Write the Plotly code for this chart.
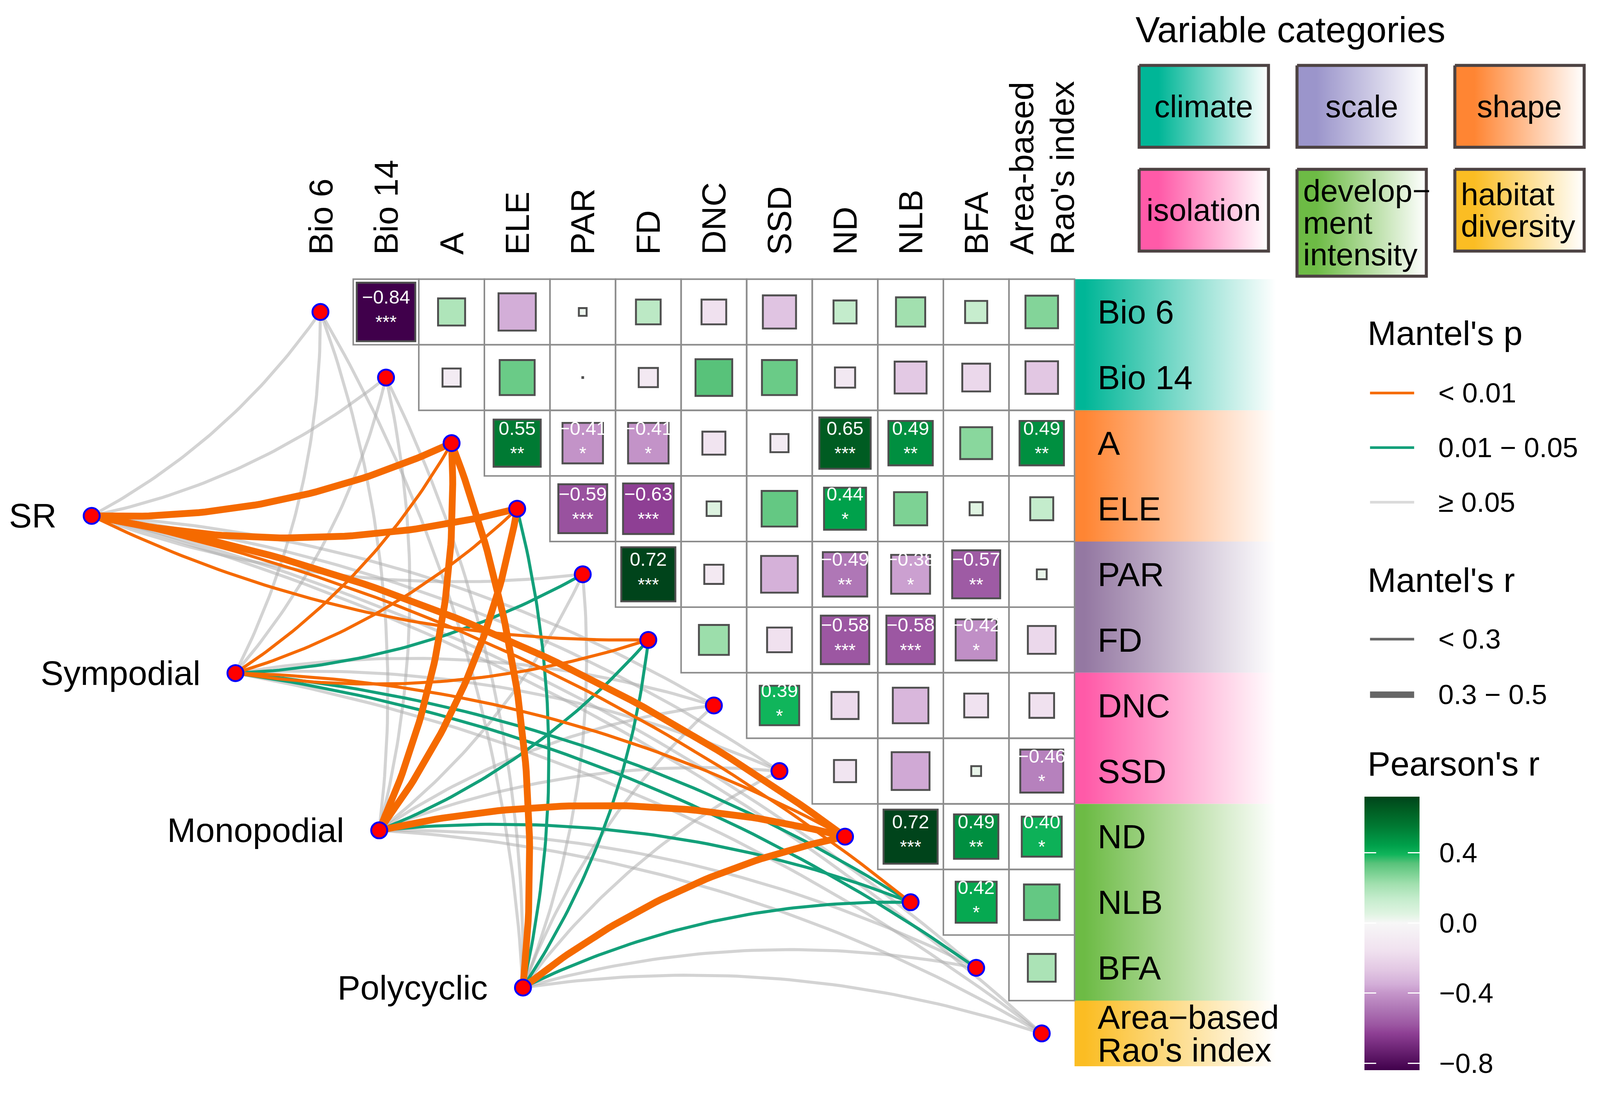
import numpy as np
import plotly.graph_objects as go

# ======================= DATA =======================
variables = ["Bio 6", "Bio 14", "A", "ELE", "PAR", "FD", "DNC", "SSD",
             "ND", "NLB", "BFA", "Area-based Rao's index"]
col_labels = [["Bio 6"], ["Bio 14"], ["A"], ["ELE"], ["PAR"], ["FD"], ["DNC"],
              ["SSD"], ["ND"], ["NLB"], ["BFA"], ["Area-based", "Rao's index"]]
row_labels = [["Bio 6"], ["Bio 14"], ["A"], ["ELE"], ["PAR"], ["FD"], ["DNC"],
              ["SSD"], ["ND"], ["NLB"], ["BFA"], ["Area\u2212based", "Rao's index"]]
var_category = ["climate", "climate", "shape", "shape", "scale", "scale",
                "isolation", "isolation", "development", "development",
                "development", "habitat"]
legend_categories = ["climate", "scale", "shape", "isolation", "development", "habitat"]
legend_category_text = {
    "climate": ["climate"], "scale": ["scale"], "shape": ["shape"],
    "isolation": ["isolation"], "development": ["develop\u2212", "ment", "intensity"],
    "habitat": ["habitat", "diversity"],
}

# Pearson's r, upper triangle: row i vs columns i+1 .. 11
pearson_r = [
    [-0.84, 0.19, -0.35, 0.02, 0.16, -0.16, -0.28, 0.14, 0.22, 0.13, 0.27],
    [-0.09, 0.31, 0.001, -0.10, 0.34, 0.31, -0.11, -0.26, -0.20, -0.27],
    [0.55, -0.41, -0.41, -0.14, -0.09, 0.65, 0.49, 0.26, 0.49],
    [-0.59, -0.63, 0.06, 0.32, 0.44, 0.28, 0.05, 0.14],
    [0.72, -0.10, -0.34, -0.49, -0.38, -0.57, 0.03],
    [0.23, -0.16, -0.58, -0.58, -0.42, -0.20],
    [0.39, -0.19, -0.32, -0.15, -0.16],
    [-0.13, -0.36, 0.03, -0.46],
    [0.72, 0.49, 0.40],
    [0.42, 0.32],
    [0.20],
]
pearson_sig = [
    ["***", "", "", "", "", "", "", "", "", "", ""],
    ["", "", "", "", "", "", "", "", "", ""],
    ["**", "*", "*", "", "", "***", "**", "", "**"],
    ["***", "***", "", "", "*", "", "", ""],
    ["***", "", "", "**", "*", "**", ""],
    ["", "", "***", "***", "*", ""],
    ["*", "", "", "", ""],
    ["", "", "", "*"],
    ["***", "**", "*"],
    ["*", ""],
    [""],
]

species = ["SR", "Sympodial", "Monopodial", "Polycyclic"]
p_levels = ["< 0.01", "0.01 \u2212 0.05", "\u2265 0.05"]
r_levels = ["< 0.3", "0.3 \u2212 0.5"]
# Mantel's p class (index into p_levels) for each species x variable
mantel_p = [
    [2, 2, 0, 0, 2, 0, 2, 2, 0, 0, 2, 2],
    [2, 2, 0, 0, 1, 0, 2, 2, 0, 1, 1, 2],
    [2, 2, 0, 0, 2, 1, 2, 2, 0, 1, 2, 2],
    [2, 2, 0, 1, 2, 1, 2, 2, 0, 1, 2, 2],
]
# Mantel's r class (index into r_levels)
mantel_r = [
    [0, 0, 1, 1, 0, 0, 0, 0, 1, 0, 0, 0],
    [0, 0, 0, 0, 0, 0, 0, 0, 0, 0, 0, 0],
    [0, 0, 1, 1, 0, 0, 0, 0, 1, 0, 0, 0],
    [0, 0, 1, 0, 0, 0, 0, 0, 1, 0, 0, 0],
]
cbar_ticks = [0.4, 0.0, -0.4, -0.8]
cbar_ticktext = ["0.4", "0.0", "\u22120.4", "\u22120.8"]

# ======================= STYLE / GEOMETRY =======================
FIG_W, FIG_H = 4201, 2864
S = 0.9737                      # global layout scale


def P(v):
    return v * S


CELL = P(172.4)
X0, Y0 = P(842.5), P(820.0)
FONT = "Liberation Sans, Arial, Helvetica, sans-serif"

p_colors = ["#F56A00", "#13A07A", "rgba(175,175,175,0.55)"]
p_legend_colors = ["#F56A00", "#13A07A", "#DADADA"]
r_widths = [P(8), P(18)]
band_colors = {"climate": "#00B697", "shape": "#FF8533", "scale": "#9478A2",
               "isolation": "#FF5AA8", "development": "#6DBB45", "habitat": "#FBBD23"}
box_colors = dict(band_colors, scale="#9B95CB")

color_anchors = [(-0.84, "#40004B"), (-0.63, "#8E3F94"), (-0.58, "#9C57A2"),
                 (-0.49, "#AF77B6"), (-0.40, "#C596CA"), (-0.35, "#D3AED8"),
                 (-0.27, "#E2C7E3"), (-0.16, "#F0E1EF"), (0.0, "#F7F7F7"),
                 (0.05, "#E0F4E2"), (0.14, "#C4ECCC"), (0.22, "#A2E0AF"),
                 (0.31, "#6ACB87"), (0.34, "#58C27A"), (0.39, "#10B55B"),
                 (0.44, "#00A14B"), (0.55, "#007A33"), (0.65, "#005C22"),
                 (0.72, "#00441B")]


def ux(xp):          # design pixel -> data unit
    return (P(xp) - X0) / CELL


def uy(yp):
    return (P(yp) - Y0) / CELL


def pxp(xp):         # design pixel -> paper
    return P(xp) / FIG_W


def pyp(yp):
    return 1 - P(yp) / FIG_H


fig = go.Figure()
shapes = []
annotations = []
n = len(variables)

all_r = [v for row in pearson_r for v in row]
cmin, cmax = min(all_r), max(all_r)
colorscale = []
for v, c in color_anchors:
    pos = min(max((v - cmin) / (cmax - cmin), 0.0), 1.0)
    colorscale.append([pos, c])
colorscale[0][0] = 0.0
colorscale[-1][0] = 1.0

# ---------- category bands ----------
band_x0, band_x1 = n - 0.5, ux(3355)
start = 0
for i in range(1, n + 1):
    if i == n or var_category[i] != var_category[start]:
        cat = var_category[start]
        y0b, y1b = start - 0.5, i - 0.5
        fig.add_trace(go.Scatter(
            x=[band_x0, band_x1, band_x1, band_x0, band_x0],
            y=[y0b, y0b, y1b, y1b, y0b], mode="lines", fill="toself",
            line=dict(width=0, color="rgba(0,0,0,0)"),
            fillgradient=dict(type="horizontal",
                              colorscale=[[0, band_colors[cat]], [0.05, band_colors[cat]], [1, "#FFFFFF"]]),
            hoverinfo="skip"))
        start = i

# ---------- edges (Mantel links) ----------
sp_x0, sp_y0 = ux(241), uy(1356)
sp_dx, sp_dy = 378 / 172.4, 413.3 / 172.4
sp_pos = [(sp_x0 + i * sp_dx, sp_y0 + i * sp_dy) for i in range(len(species))]

edges = []
for si in range(len(species)):
    for j in range(n):
        edges.append((mantel_p[si][j], si, j))
edges.sort(key=lambda e: -e[0])
t = np.linspace(0, 1, 60)
for pc, si, j in edges:
    sx, sy = sp_pos[si]
    vx, vy = float(j), float(j)
    dx, dy = vx - sx, vy - sy
    L = np.hypot(dx, dy)
    if j < n / 2:
        nx, ny = -dy / L, dx / L
    else:
        nx, ny = dy / L, -dx / L
    h = 0.12 * L
    cx, cy = (sx + vx) / 2 + nx * h, (sy + vy) / 2 + ny * h
    bx = (1 - t) ** 2 * sx + 2 * (1 - t) * t * cx + t ** 2 * vx
    by = (1 - t) ** 2 * sy + 2 * (1 - t) * t * cy + t ** 2 * vy
    fig.add_trace(go.Scatter(x=bx, y=by, mode="lines",
                             line=dict(color=p_colors[pc], width=r_widths[mantel_r[si][j]]),
                             hoverinfo="skip"))

# ---------- correlation cells ----------
cx_l, cy_l, cr_l, lab_x, lab_y, lab_v, lab_s = [], [], [], [], [], [], []
for i, row in enumerate(pearson_r):
    for k, v in enumerate(row):
        j = i + 1 + k
        shapes.append(dict(type="rect", xref="x", yref="y", x0=j - 0.5, x1=j + 0.5,
                           y0=i - 0.5, y1=i + 0.5, line=dict(color="#8C8C8C", width=P(4)),
                           layer="above"))
        cx_l.append(j)
        cy_l.append(i)
        cr_l.append(v)
        if pearson_sig[i][k]:
            lab_x.append(j)
            lab_y.append(i)
            lab_v.append(f"{v:.2f}".replace("-", "\u2212"))
            lab_s.append(pearson_sig[i][k])

sizes = [max(np.sqrt(abs(v)) * CELL - P(4), 2) for v in cr_l]
fig.add_trace(go.Scatter(
    x=cx_l, y=cy_l, mode="markers", hoverinfo="skip",
    marker=dict(symbol="square", size=sizes, color=cr_l, colorscale=colorscale,
                cmin=cmin, cmax=cmax, opacity=1, line=dict(color="#4F4F4F", width=P(5)),
                showscale=True,
                colorbar=dict(x=pxp(3587), xanchor="left", y=pyp((2094 + 2813) / 2),
                              yanchor="middle", len=P(719), lenmode="pixels",
                              thickness=P(145), thicknessmode="pixels", xpad=0, ypad=0,
                              outlinewidth=0, tickvals=cbar_ticks, ticktext=cbar_ticktext,
                              ticks="outside", ticklen=P(38), tickcolor="rgba(0,0,0,0)",
                              tickfont=dict(size=P(72), family=FONT, color="black")))))
fig.add_trace(go.Scatter(x=lab_x, y=[y - 0.2 for y in lab_y], mode="text", text=lab_v,
                         textfont=dict(size=P(50), color="white", family=FONT), hoverinfo="skip"))
fig.add_trace(go.Scatter(x=lab_x, y=[y + 0.18 for y in lab_y], mode="text", text=lab_s,
                         textfont=dict(size=P(48), color="white", family=FONT), hoverinfo="skip"))

# ---------- nodes ----------
node_marker = dict(size=P(42), color="#FF0000", opacity=1, line=dict(color="#0000FF", width=P(5)))
fig.add_trace(go.Scatter(x=list(range(n)), y=list(range(n)), mode="markers", hoverinfo="skip",
                         marker=node_marker))
fig.add_trace(go.Scatter(x=[p[0] for p in sp_pos], y=[p[1] for p in sp_pos], mode="markers",
                         hoverinfo="skip", marker=node_marker))
for si, name in enumerate(species):
    annotations.append(dict(x=sp_pos[si][0] - 90 / 172.4, y=sp_pos[si][1], xref="x", yref="y",
                            text=name, showarrow=False, xanchor="right", yanchor="middle",
                            font=dict(size=P(90), family=FONT, color="black")))

# ---------- axis labels ----------
for j, lines in enumerate(col_labels):
    m = len(lines)
    for li, txt in enumerate(lines):
        off = (li - (m - 1) / 2) * 106 / 172.4
        annotations.append(dict(x=j + off, y=uy(672), xref="x", yref="y", text=txt,
                                showarrow=False, textangle=-90, xanchor="center",
                                yanchor="bottom", font=dict(size=P(88), family=FONT, color="black")))
for i, lines in enumerate(row_labels):
    m = len(lines)
    for li, txt in enumerate(lines):
        off = (li - (m - 1) / 2) * 86 / 172.4
        annotations.append(dict(x=ux(2884), y=i + off, xref="x", yref="y", text=txt,
                                showarrow=False, xanchor="left", yanchor="middle",
                                font=dict(size=P(88), family=FONT, color="black")))

# ---------- variable category legend ----------
annotations.append(dict(x=pxp(2983), y=pyp(78), xref="paper", yref="paper",
                        text="Variable categories", showarrow=False, xanchor="left",
                        yanchor="middle", font=dict(size=P(96), family=FONT, color="black")))
box_lefts = [2995, 3410, 3825]
box_tops = [172, 445]
for idx, cat in enumerate(legend_categories):
    r_, c_ = divmod(idx, 3)
    bx0, by0 = box_lefts[c_], box_tops[r_]
    bx1 = bx0 + 340
    by1 = by0 + (281 if len(legend_category_text[cat]) == 3 else 215)
    xs = [ux(bx0), ux(bx1), ux(bx1), ux(bx0), ux(bx0)]
    ys = [uy(by0), uy(by0), uy(by1), uy(by1), uy(by0)]
    fig.add_trace(go.Scatter(x=xs, y=ys, mode="lines", fill="toself",
                             line=dict(color="#4D4343", width=P(8)),
                             fillgradient=dict(type="horizontal",
                                               colorscale=[[0, box_colors[cat]], [0.15, box_colors[cat]],
                                                           [1, "#FFFFFF"]]),
                             hoverinfo="skip"))
    lines = legend_category_text[cat]
    cyb = (by0 + by1) / 2
    if len(lines) == 1:
        annotations.append(dict(x=pxp((bx0 + bx1) / 2), y=pyp(cyb), xref="paper", yref="paper",
                                text=lines[0], showarrow=False, xanchor="center", yanchor="middle",
                                font=dict(size=P(82), family=FONT, color="black")))
    else:
        for li, txt in enumerate(lines):
            yy = cyb + (li - (len(lines) - 1) / 2) * 84
            annotations.append(dict(x=pxp(bx0 + 14), y=pyp(yy), xref="paper", yref="paper",
                                    text=txt, showarrow=False, xanchor="left", yanchor="middle",
                                    font=dict(size=P(82), family=FONT, color="black")))


# ---------- Mantel legends ----------
def legend_title(txt, ycen):
    annotations.append(dict(x=pxp(3594), y=pyp(ycen), xref="paper", yref="paper", text=txt,
                            showarrow=False, xanchor="left", yanchor="middle",
                            font=dict(size=P(90), family=FONT, color="black")))


def legend_item(txt, ycen, color, width):
    shapes.append(dict(type="line", xref="paper", yref="paper", x0=pxp(3602), x1=pxp(3718),
                       y0=pyp(ycen), y1=pyp(ycen), line=dict(color=color, width=width)))
    annotations.append(dict(x=pxp(3779), y=pyp(ycen), xref="paper", yref="paper", text=txt,
                            showarrow=False, xanchor="left", yanchor="middle",
                            font=dict(size=P(73), family=FONT, color="black")))


legend_title("Mantel's p", 876)
for k, lev in enumerate(p_levels):
    legend_item(lev, 1033 + k * 143.5, p_legend_colors[k], P(7))
legend_title("Mantel's r", 1525)
for k, lev in enumerate(r_levels):
    legend_item(lev, 1680 + k * 146, "#666666", [P(7), P(17)][k])
legend_title("Pearson's r", 2008)

# white tick marks on the colour bar (annotation boxes drawn in the info layer)
for v in cbar_ticks:
    yy = 2094 + (cmax - v) / (cmax - cmin) * 719
    for xa in (3587, 3701):
        annotations.append(dict(x=pxp(xa), y=pyp(yy), xref="paper", yref="paper", text=" ",
                                showarrow=False, xanchor="left", yanchor="middle",
                                width=P(31), height=P(3), bgcolor="white", borderpad=0,
                                borderwidth=0, font=dict(size=1)))

fig.update_layout(
    width=FIG_W, height=FIG_H, margin=dict(l=0, r=0, t=0, b=0),
    paper_bgcolor="white", plot_bgcolor="white", showlegend=False,
    xaxis=dict(range=[(0 - X0) / CELL, (FIG_W - X0) / CELL], visible=False),
    yaxis=dict(range=[(FIG_H - Y0) / CELL, (0 - Y0) / CELL], visible=False),
    shapes=shapes, annotations=annotations,
    font=dict(family=FONT),
)
fig.write_html("out.html", config={"displayModeBar": False},
               post_script="document.body.style.margin='0';")
